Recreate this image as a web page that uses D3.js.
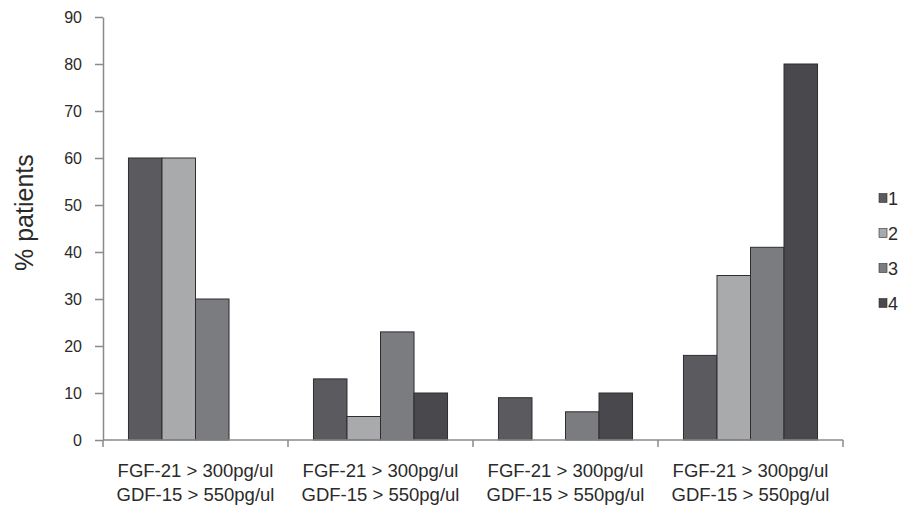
<!DOCTYPE html>
<html><head><meta charset="utf-8">
<script src="https://cdn.jsdelivr.net/npm/d3@7"></script>
<style>body{margin:0;background:#fff;} svg{display:block;}</style>
</head><body>
<svg id="c" width="914" height="509"></svg>
<script>
const categories = ["c1","c2","c3","c4"];
const catLine1 = ["FGF-21 > 300pg/ul","FGF-21 > 300pg/ul","FGF-21 > 300pg/ul","FGF-21 > 300pg/ul"];
const catLine2 = ["GDF-15 > 550pg/ul","GDF-15 > 550pg/ul","GDF-15 > 550pg/ul","GDF-15 > 550pg/ul"];
const seriesNames = ["1","2","3","4"];
const series1 = [60, 13, 9, 18];
const series2 = [60, 5, 0, 35];
const series3 = [30, 23, 6, 41];
const series4 = [0, 10, 10, 80];
const yTicks = [0,10,20,30,40,50,60,70,80,90];
const colors = ["#5b5b5f","#a9aaab","#7a7c7f","#49494d"];

const seriesVals = [series1, series2, series3, series4];
const svg = d3.select("#c");
const pL = 103, pR = 843, pT = 17, pB = 440;
const font = "Arial, 'Liberation Sans', sans-serif";

const x0 = d3.scaleBand().domain(categories).range([pL, pR]).paddingInner(0).paddingOuter(0);
const x1 = d3.scaleBand().domain(seriesNames).range([0, x0.bandwidth()]).paddingOuter(0.76).paddingInner(0);
const y = d3.scaleLinear().domain([0, 90]).range([pB, pT]);

// bars
categories.forEach((c, ci) => {
  seriesNames.forEach((s, si) => {
    const v = seriesVals[si][ci];
    if (v <= 0) return;
    svg.append("rect")
      .attr("x", x0(c) + x1(s))
      .attr("y", y(v))
      .attr("width", x1.bandwidth())
      .attr("height", y(0) - y(v))
      .attr("fill", colors[si])
      .attr("stroke", "#2e2e30")
      .attr("stroke-width", 1);
  });
});

// y axis
const yAxis = d3.axisLeft(y).tickValues(yTicks).tickSize(8).tickSizeOuter(0);
const gy = svg.append("g").attr("transform", `translate(${pL},0)`).call(yAxis);
gy.select(".domain").attr("stroke", "#8a8a8a").attr("stroke-width", 1.5);
gy.selectAll(".tick line").attr("stroke", "#8a8a8a").attr("stroke-width", 1.5);
gy.selectAll(".tick text").attr("font-family", font).attr("font-size", 16).attr("fill", "#2a2a2a").attr("x", -21).attr("dy", "0.36em");

// x axis
const gx = svg.append("g").attr("transform", `translate(0,${pB})`);
gx.append("line").attr("x1", pL).attr("x2", pR).attr("y1", 0).attr("y2", 0)
  .attr("stroke", "#8a8a8a").attr("stroke-width", 1.5);
const bounds = categories.map(c => x0(c)).concat([pR]);
gx.selectAll("line.tk").data(bounds).enter().append("line")
  .attr("x1", d => d).attr("x2", d => d).attr("y1", 0).attr("y2", 7)
  .attr("stroke", "#8a8a8a").attr("stroke-width", 1.5);
categories.forEach((c, i) => {
  const cx = x0(c) + x0.bandwidth() / 2;
  gx.append("text").attr("x", cx).attr("y", 37).attr("text-anchor", "middle")
    .attr("font-family", font).attr("font-size", 18.5).attr("fill", "#2a2a2a").text(catLine1[i]);
  gx.append("text").attr("x", cx).attr("y", 61).attr("text-anchor", "middle")
    .attr("font-family", font).attr("font-size", 18.5).attr("fill", "#2a2a2a").text(catLine2[i]);
});

// y title
svg.append("text").attr("transform", "translate(33,271) rotate(-90)")
  .attr("text-anchor", "start").attr("font-family", font).attr("font-size", 25)
  .attr("fill", "#2a2a2a").text("% patients");

// legend
const legY = d3.scalePoint().domain(seriesNames).range([198, 303]);
seriesNames.forEach((s, i) => {
  svg.append("rect").attr("x", 879).attr("y", legY(s) - 4.5).attr("width", 8).attr("height", 9)
    .attr("fill", colors[i]).attr("stroke", "#2e2e30").attr("stroke-width", 0.6);
  svg.append("text").attr("x", 888).attr("y", legY(s) + 6.5).attr("font-family", font)
    .attr("font-size", 18).attr("fill", "#2a2a2a").text(s);
});
</script>
</body></html>
